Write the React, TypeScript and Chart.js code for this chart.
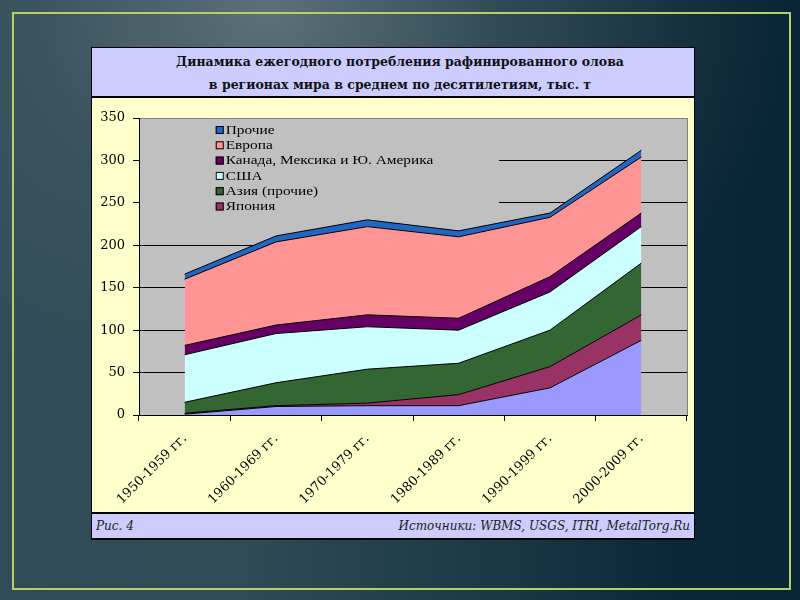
import { useEffect, useRef } from "react";
import { Chart, registerables } from "chart.js";

Chart.register(...registerables);

// ---- data ----
const categories = [
  "1950-1959 гг.",
  "1960-1969 гг.",
  "1970-1979 гг.",
  "1980-1989 гг.",
  "1990-1999 гг.",
  "2000-2009 гг.",
];
// stacked from bottom to top
const china = [1, 10, 11, 11, 32, 88];
const japan = [1, 1, 3, 13, 25, 30];
const asiaOther = [13, 27, 40, 37, 43, 61];
const usa = [56, 58, 50, 39, 45, 43];
const americas = [11, 10, 14, 14, 18, 16];
const europe = [78, 98, 104, 96, 70, 66];
const others = [6, 7, 8, 7, 5, 8];
const yTickValues = [0, 50, 100, 150, 200, 250, 300, 350];

const titleLines = [
  "Динамика ежегодного потребления рафинированного олова",
  "в регионах мира в среднем по десятилетиям, тыс. т",
];
const footLeft = "Рис. 4";
const footRight = "Источники: WBMS, USGS, ITRI, MetalTorg.Ru";

const series = [
  { name: "Китай", values: china, color: "#9999ff", legend: false },
  { name: "Япония", values: japan, color: "#993366", legend: true },
  { name: "Азия (прочие)", values: asiaOther, color: "#336633", legend: true },
  { name: "США", values: usa, color: "#ccffff", legend: true },
  { name: "Канада, Мексика и Ю. Америка", values: americas, color: "#660066", legend: true },
  { name: "Европа", values: europe, color: "#ff9494", legend: true },
  { name: "Прочие", values: others, color: "#2266c4", legend: true },
];

const PLOT_BG = "#c0c0c0";
const SERIF = "'Liberation Serif', 'Times New Roman', serif";
const WIDE_SERIF = "'DejaVu Serif', serif";

const plotPlugin = {
  id: "plotDecor",
  beforeDraw(chart: any) {
    const { ctx, chartArea: a } = chart;
    ctx.save();
    ctx.fillStyle = PLOT_BG;
    ctx.fillRect(a.left, a.top, a.right - a.left, a.bottom - a.top);
    ctx.restore();
  },
  beforeDatasetsDraw(chart: any) {
    const { ctx, chartArea: a } = chart;
    const w = a.right - a.left;
    const h = a.bottom - a.top;
    ctx.save();
    // legend box (same colour as plot, hides gridlines behind it)
    ctx.fillStyle = PLOT_BG;
    ctx.fillRect(a.left + 1, a.top + 1, w * 0.655, h * 0.33);
    const items = series.filter((s) => s.legend).slice().reverse();
    const sqX = a.left + w * 0.14;
    const txtX = sqX + 10;
    items.forEach((s, i) => {
      const cy = a.top + 12 + i * 15.3;
      ctx.fillStyle = s.color;
      ctx.fillRect(sqX, cy - 4, 8, 8);
      ctx.strokeStyle = "#000";
      ctx.lineWidth = 1;
      ctx.strokeRect(sqX + 0.5, cy - 3.5, 7, 7);
      ctx.save();
      ctx.translate(txtX, cy + 0.5);
      ctx.scale(1.28, 1);
      ctx.fillStyle = "#000";
      ctx.font = `12px ${SERIF}`;
      ctx.textBaseline = "middle";
      ctx.textAlign = "left";
      ctx.fillText(s.name, 0, 0);
      ctx.restore();
    });
    ctx.restore();
  },
  afterDatasetsDraw(chart: any) {
    const { ctx, chartArea: a } = chart;
    ctx.save();
    ctx.strokeStyle = "#808080";
    ctx.lineWidth = 1;
    ctx.beginPath();
    ctx.moveTo(Math.round(a.right) + 0.5, a.top);
    ctx.lineTo(Math.round(a.right) + 0.5, a.bottom);
    ctx.stroke();
    ctx.restore();
  },
};

function ChartPanel() {
  const ref = useRef<HTMLCanvasElement>(null);
  useEffect(() => {
    const canvas = ref.current!;
    const chart = new Chart(canvas, {
      type: "line",
      data: {
        labels: categories,
        datasets: series.map((s, i) => ({
          label: s.name,
          data: s.values,
          backgroundColor: s.color,
          borderColor: "#000",
          borderWidth: 1,
          fill: i === 0 ? "origin" : "-1",
          pointRadius: 0,
          pointHoverRadius: 0,
          tension: 0,
        })),
      },
      options: {
        animation: false,
        responsive: false,
        maintainAspectRatio: false,
        layout: { padding: { top: 20, right: 7, left: 0, bottom: 0 } },
        plugins: {
          legend: { display: false },
          tooltip: { enabled: false },
          title: { display: false },
        },
        scales: {
          x: {
            type: "category",
            offset: true,
            grid: {
              offset: true,
              drawOnChartArea: false,
              drawTicks: true,
              tickLength: 6,
              color: "#000",
              tickColor: "#000",
            },
            border: { color: "#000", width: 1 },
            ticks: {
              autoSkip: false,
              minRotation: 45,
              maxRotation: 45,
              color: "#000",
              padding: 10,
              font: { family: WIDE_SERIF, size: 13 },
            },
            afterFit: (s: any) => {
              s.height = 97;
            },
          },
          y: {
            stacked: true,
            min: 0,
            max: 350,
            afterBuildTicks: (s: any) => {
              s.ticks = yTickValues.map((v) => ({ value: v }));
            },
            grid: {
              color: (c: any) => (c.tick && c.tick.value === 350 ? "#808080" : "#000"),
              tickColor: "#000",
              tickLength: 6,
              lineWidth: 1,
            },
            border: { color: "#000", width: 1 },
            ticks: {
              color: "#000",
              padding: 8,
              font: { family: WIDE_SERIF, size: 13 },
            },
            afterFit: (s: any) => {
              s.width = 47;
            },
          },
        },
      } as any,
      plugins: [plotPlugin],
    });
    return () => chart.destroy();
  }, []);
  return <canvas ref={ref} width={602} height={414} style={{ display: "block", width: 602, height: 414 }} />;
}

export default function App() {
  return (
    <div
      style={{
        position: "fixed",
        left: 0,
        top: 0,
        width: 800,
        height: 600,
        overflow: "hidden",
        background:
          "radial-gradient(ellipse 520px 420px at 270px 10px, rgba(100,118,124,0.85) 0%, rgba(70,92,100,0.5) 45%, rgba(0,0,0,0) 100%), linear-gradient(90deg, #2f4c58 0%, #2f4b56 30%, #1a3846 62%, #0a2737 85%, #082535 100%)",
      }}
    >
      <div
        style={{
          position: "absolute",
          left: 12,
          top: 12,
          width: 779,
          height: 578,
          boxSizing: "border-box",
          border: "2px solid #b8cd6c",
        }}
      />
      <div
        style={{
          position: "absolute",
          left: 91,
          top: 47,
          width: 604,
          height: 493,
          background: "#000",
        }}
      >
        <div
          style={{
            position: "absolute",
            left: 1,
            top: 1,
            width: 602,
            height: 48,
            background: "#ccccff",
            fontFamily: WIDE_SERIF,
            fontWeight: "bold",
            fontSize: 12.5,
            color: "#111",
            textAlign: "center",
            paddingLeft: 14,
            boxSizing: "border-box",
            lineHeight: "23px",
            paddingTop: 2,
          }}
        >
          {titleLines.map((t) => (
            <div key={t} style={{ whiteSpace: "nowrap" }}>
              {t}
            </div>
          ))}
        </div>
        <div
          style={{
            position: "absolute",
            left: 1,
            top: 51,
            width: 602,
            height: 414,
            background: "#ffffcc",
          }}
        >
          <ChartPanel />
        </div>
        <div
          style={{
            position: "absolute",
            left: 1,
            top: 467,
            width: 602,
            height: 24,
            background: "#ccccff",
            fontFamily: WIDE_SERIF,
            fontStyle: "italic",
            fontSize: 12,
            color: "#222",
            display: "flex",
            justifyContent: "space-between",
            alignItems: "center",
            padding: "0 4px",
            boxSizing: "border-box",
          }}
        >
          <span>{footLeft}</span>
          <span>{footRight}</span>
        </div>
      </div>
    </div>
  );
}
